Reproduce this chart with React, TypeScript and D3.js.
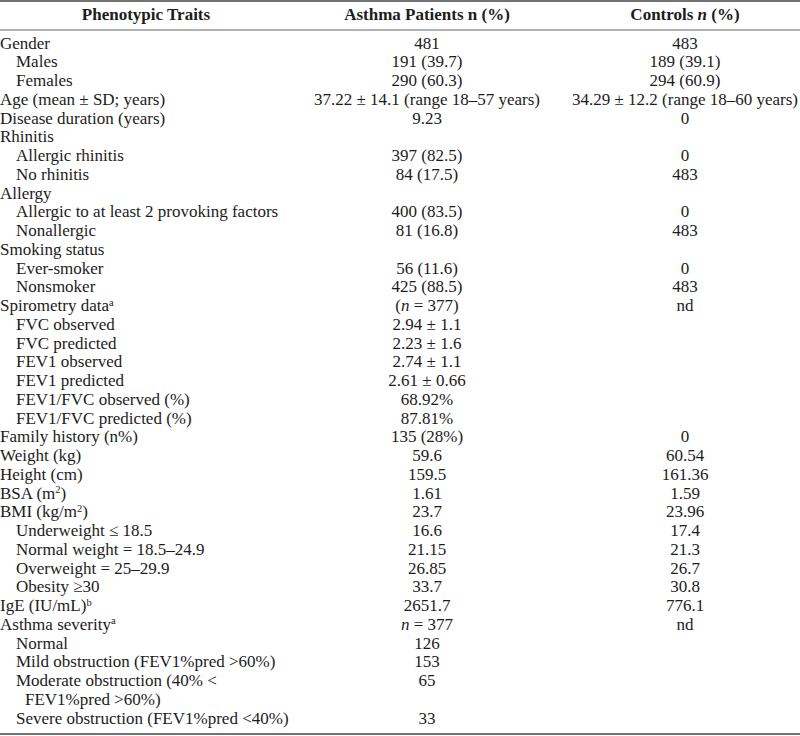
import React, { useEffect } from "react";
import * as d3 from "d3";

const headers = ["Phenotypic Traits", "Asthma Patients n (%)", "Controls *n* (%)"];

const traits = [
  "Gender", "Males", "Females", "Age (mean ± SD; years)", "Disease duration (years)",
  "Rhinitis", "Allergic rhinitis", "No rhinitis", "Allergy",
  "Allergic to at least 2 provoking factors", "Nonallergic", "Smoking status",
  "Ever-smoker", "Nonsmoker", "Spirometry data^{a}", "FVC observed", "FVC predicted",
  "FEV1 observed", "FEV1 predicted", "FEV1/FVC observed (%)", "FEV1/FVC predicted (%)",
  "Family history (n%)", "Weight (kg)", "Height (cm)", "BSA (m^{2})", "BMI (kg/m^{2})",
  "Underweight ≤ 18.5", "Normal weight = 18.5–24.9", "Overweight = 25–29.9", "Obesity ≥30",
  "IgE (IU/mL)^{b}", "Asthma severity^{a}", "Normal", "Mild obstruction (FEV1%pred >60%)",
  "Moderate obstruction (40% <|FEV1%pred >60%)", "Severe obstruction (FEV1%pred <40%)",
];

const levels = [
  0, 1, 1, 0, 0, 0, 1, 1, 0, 1, 1, 0, 1, 1, 0, 1, 1, 1, 1, 1, 1,
  0, 0, 0, 0, 0, 1, 1, 1, 1, 0, 0, 1, 1, 1, 1,
];

const asthmaValues = [
  "481", "191 (39.7)", "290 (60.3)", "37.22 ± 14.1 (range 18–57 years)", "9.23",
  "", "397 (82.5)", "84 (17.5)", "", "400 (83.5)", "81 (16.8)", "",
  "56 (11.6)", "425 (88.5)", "(*n* = 377)", "2.94 ± 1.1", "2.23 ± 1.6",
  "2.74 ± 1.1", "2.61 ± 0.66", "68.92%", "87.81%",
  "135 (28%)", "59.6", "159.5", "1.61", "23.7",
  "16.6", "21.15", "26.85", "33.7",
  "2651.7", "*n* = 377", "126", "153", "65", "33",
];

const controlValues = [
  "483", "189 (39.1)", "294 (60.9)", "34.29 ± 12.2 (range 18–60 years)", "0",
  "", "0", "483", "", "0", "483", "",
  "0", "483", "nd", "", "",
  "", "", "", "",
  "0", "60.54", "161.36", "1.59", "23.96",
  "17.4", "21.3", "26.7", "30.8",
  "776.1", "nd", "", "", "", "",
];

const W = 800;
const H = 736;
const FONT = "'Liberation Serif', 'Times New Roman', serif";
const FS = 17;
const INK = "#1c1c1c";
const SUP = 5.5;

function Rich({ s, x, y, anchor, weight }: { s: string; x: number; y: number; anchor: string; weight?: number }) {
  const parts = s.split(/(\^\{[^}]*\}|\*[^*]+\*)/).filter((p) => p.length > 0);
  const out: React.ReactNode[] = [];
  let shifted = false;
  parts.forEach((p, i) => {
    if (p.startsWith("^{")) {
      out.push(
        <tspan key={i} dy={-SUP} fontSize={10.5}>
          {p.slice(2, -1)}
        </tspan>
      );
      shifted = true;
    } else if (p.startsWith("*")) {
      out.push(
        <tspan key={i} fontStyle="italic" dy={shifted ? SUP : 0}>
          {p.slice(1, -1)}
        </tspan>
      );
      shifted = false;
    } else {
      out.push(
        <tspan key={i} dy={shifted ? SUP : 0}>
          {p}
        </tspan>
      );
      shifted = false;
    }
  });
  return (
    <text x={x} y={y} textAnchor={anchor} fontWeight={weight ?? 400} style={{ whiteSpace: "pre" }}>
      {out}
    </text>
  );
}

export default function App() {
  useEffect(() => {
    document.body.style.margin = "0";
  }, []);

  // line index for each row (multi-line labels take more than one line)
  const lineStart: number[] = [];
  let acc = 0;
  traits.forEach((t) => {
    lineStart.push(acc);
    acc += t.split("|").length;
  });
  const totalLines = acc;

  const y = d3.scaleLinear().domain([0, totalLines - 1]).range([48.5, 48.5 + 18.75 * (totalLines - 1)]);
  const colX = d3.scaleOrdinal<string, number>().domain(["trait", "asthma", "control"]).range([146, 427, 685]);
  const indentX = d3.scaleOrdinal<number, number>().domain([0, 1, 2]).range([0, 16, 25]);

  return (
    <svg
      width={W}
      height={H}
      viewBox={`0 0 ${W} ${H}`}
      style={{ display: "block", position: "absolute", left: 0, top: 0, background: "#fff" }}
      fontFamily={FONT}
      fontSize={FS}
      fill={INK}
    >
      <rect x={0} y={0} width={W} height={H} fill="#fff" />
      <line x1={0} x2={W} y1={1} y2={1} stroke="#444" strokeWidth={1.6} />
      <line x1={0} x2={W} y1={30} y2={30} stroke="#666" strokeWidth={1} />
      <line x1={0} x2={W} y1={734} y2={734} stroke="#444" strokeWidth={1.6} />

      <Rich s={headers[0]} x={colX("trait")} y={20} anchor="middle" weight={700} />
      <Rich s={headers[1]} x={colX("asthma")} y={20} anchor="middle" weight={700} />
      <Rich s={headers[2]} x={colX("control")} y={20} anchor="middle" weight={700} />

      {traits.map((t, i) => {
        const lines = t.split("|");
        const l0 = lineStart[i];
        return (
          <g key={i}>
            {lines.map((ln, k) => (
              <Rich
                key={k}
                s={ln}
                x={indentX(k === 0 ? levels[i] : 2)}
                y={y(l0 + k)}
                anchor="start"
              />
            ))}
            {asthmaValues[i] ? (
              <Rich s={asthmaValues[i]} x={colX("asthma")} y={y(l0)} anchor="middle" />
            ) : null}
            {controlValues[i] ? (
              <Rich s={controlValues[i]} x={colX("control")} y={y(l0)} anchor="middle" />
            ) : null}
          </g>
        );
      })}
    </svg>
  );
}
